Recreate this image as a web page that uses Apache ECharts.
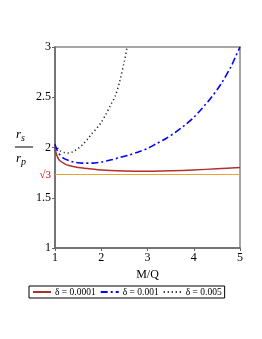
<!DOCTYPE html>
<html><head><meta charset="utf-8">
<script src="https://cdn.jsdelivr.net/npm/echarts@6/dist/echarts.min.js"></script>
<style>html,body{margin:0;padding:0;background:#fff}#c{width:262px;height:339px}</style>
</head><body><div id="c"></div>
<script>
const mqRed = [1.0, 1.02, 1.05, 1.1, 1.2, 1.3, 1.5, 1.7, 2.0, 2.5, 3.0, 3.5, 4.0, 4.5, 5.0];
const ratioRed = [2.0, 1.95, 1.91, 1.87, 1.84, 1.82, 1.80, 1.79, 1.775, 1.766, 1.763, 1.768, 1.777, 1.788, 1.80];
const mqBlue = [1.0, 1.05, 1.1, 1.2, 1.3, 1.4, 1.6, 1.8, 2.0, 2.2, 2.4, 2.6, 2.8, 3.0, 3.2, 3.4, 3.6, 3.8, 4.0, 4.2, 4.4, 4.6, 4.8, 4.9, 5.0];
const ratioBlue = [2.03, 1.97, 1.93, 1.89, 1.87, 1.855, 1.845, 1.845, 1.855, 1.875, 1.90, 1.925, 1.955, 1.99, 2.04, 2.09, 2.15, 2.22, 2.30, 2.40, 2.51, 2.64, 2.80, 2.90, 3.0];
const mqBlack = [1.0, 1.1, 1.2, 1.3, 1.4, 1.5, 1.6, 1.7, 1.8, 1.9, 2.0, 2.1, 2.2, 2.3, 2.4, 2.5, 2.56];
const ratioBlack = [2.03, 1.97, 1.95, 1.945, 1.96, 1.99, 2.03, 2.08, 2.14, 2.19, 2.25, 2.33, 2.42, 2.51, 2.66, 2.86, 3.0];
const seriesNames = ['δ = 0.0001', 'δ = 0.001', 'δ = 0.005'];
const xTicks = [1, 2, 3, 4, 5];
const yTicks = [1, 1.5, 2, 2.5, 3];
const sqrt3 = Math.sqrt(3);

const zip = (a, b) => a.map((v, i) => [v, b[i]]);
const serif = 'Liberation Serif';
const chart = echarts.init(document.getElementById('c'), null, {renderer: 'canvas'});
chart.setOption({
  animation: false,
  textStyle: {fontFamily: serif},
  grid: {left: 55, right: 22, top: 47, bottom: 91, show: true, borderColor: '#888', borderWidth: 1.5},
  legend: {
    data: seriesNames, bottom: 41, left: 29,
    borderColor: '#000', borderWidth: 1, borderRadius: 0,
    padding: [1, 3], itemGap: 4, itemWidth: 18, itemHeight: 10,
    itemStyle: {opacity: 0},
    textStyle: {fontFamily: serif, fontSize: 9.5, color: '#000', padding: [0, 0, 0, -1]}
  },
  xAxis: {
    type: 'value', min: 1, max: 5, interval: 1,
    name: 'M/Q', nameLocation: 'middle', nameGap: 18,
    nameTextStyle: {fontFamily: serif, fontSize: 12, color: '#000'},
    axisLine: {lineStyle: {color: '#666', width: 1.5}},
    axisTick: {show: true, length: 3, lineStyle: {color: '#666'}},
    axisLabel: {fontFamily: serif, fontSize: 12, color: '#000', margin: 4,
      formatter: v => xTicks.includes(v) ? String(v) : ''},
    splitLine: {show: false}
  },
  yAxis: {
    type: 'value', min: 1, max: 3, interval: 0.5,
    axisLine: {show: true, lineStyle: {color: '#666', width: 1.5}},
    axisTick: {show: true, length: 3, lineStyle: {color: '#666'}},
    axisLabel: {fontFamily: serif, fontSize: 12, color: '#000', margin: 4,
      formatter: v => yTicks.includes(v) ? String(v) : ''},
    splitLine: {show: false}
  },
  graphic: [
    {type: 'text', left: 16, top: 128, style: {text: '{i|r}{s|s}', rich: {
      i: {fontFamily: serif, fontStyle: 'italic', fontSize: 13, fill: '#000'},
      s: {fontFamily: serif, fontStyle: 'italic', fontSize: 10, fill: '#000', padding: [8, 0, 0, 0]}}}},
    {type: 'line', shape: {x1: 15, y1: 147, x2: 33, y2: 147}, style: {stroke: '#000', lineWidth: 1}},
    {type: 'text', left: 16, top: 152, style: {text: '{i|r}{s|p}', rich: {
      i: {fontFamily: serif, fontStyle: 'italic', fontSize: 13, fill: '#000'},
      s: {fontFamily: serif, fontStyle: 'italic', fontSize: 10, fill: '#000', padding: [8, 0, 0, 0]}}}}
  ],
  series: [
    {name: seriesNames[0], type: 'line', data: zip(mqRed, ratioRed), smooth: 0.3, symbol: 'none',
      lineStyle: {color: '#b03030', width: 1.5}, itemStyle: {color: '#b03030'}, z: 4},
    {name: seriesNames[1], type: 'line', data: zip(mqBlue, ratioBlue), smooth: 0.3, symbol: 'none',
      lineStyle: {color: '#0000ff', width: 1.6, type: [7, 3, 2, 3]}, itemStyle: {color: '#0000ff'}, z: 4},
    {name: seriesNames[2], type: 'line', data: zip(mqBlack, ratioBlack), smooth: 0.3, symbol: 'none',
      lineStyle: {color: '#222', width: 1.5, type: [1.2, 2.8]}, itemStyle: {color: '#222'}, z: 4},
    {name: 'sqrt3', type: 'line', data: [], symbol: 'none', z: 3,
      markLine: {silent: true, symbol: 'none',
        lineStyle: {color: '#f0a030', width: 1.2, type: 'solid'},
        label: {position: 'start', formatter: '√3', color: '#e00000', fontFamily: serif, fontSize: 11, distance: 4},
        data: [{yAxis: sqrt3}]}}
  ]
});
</script></body></html>
